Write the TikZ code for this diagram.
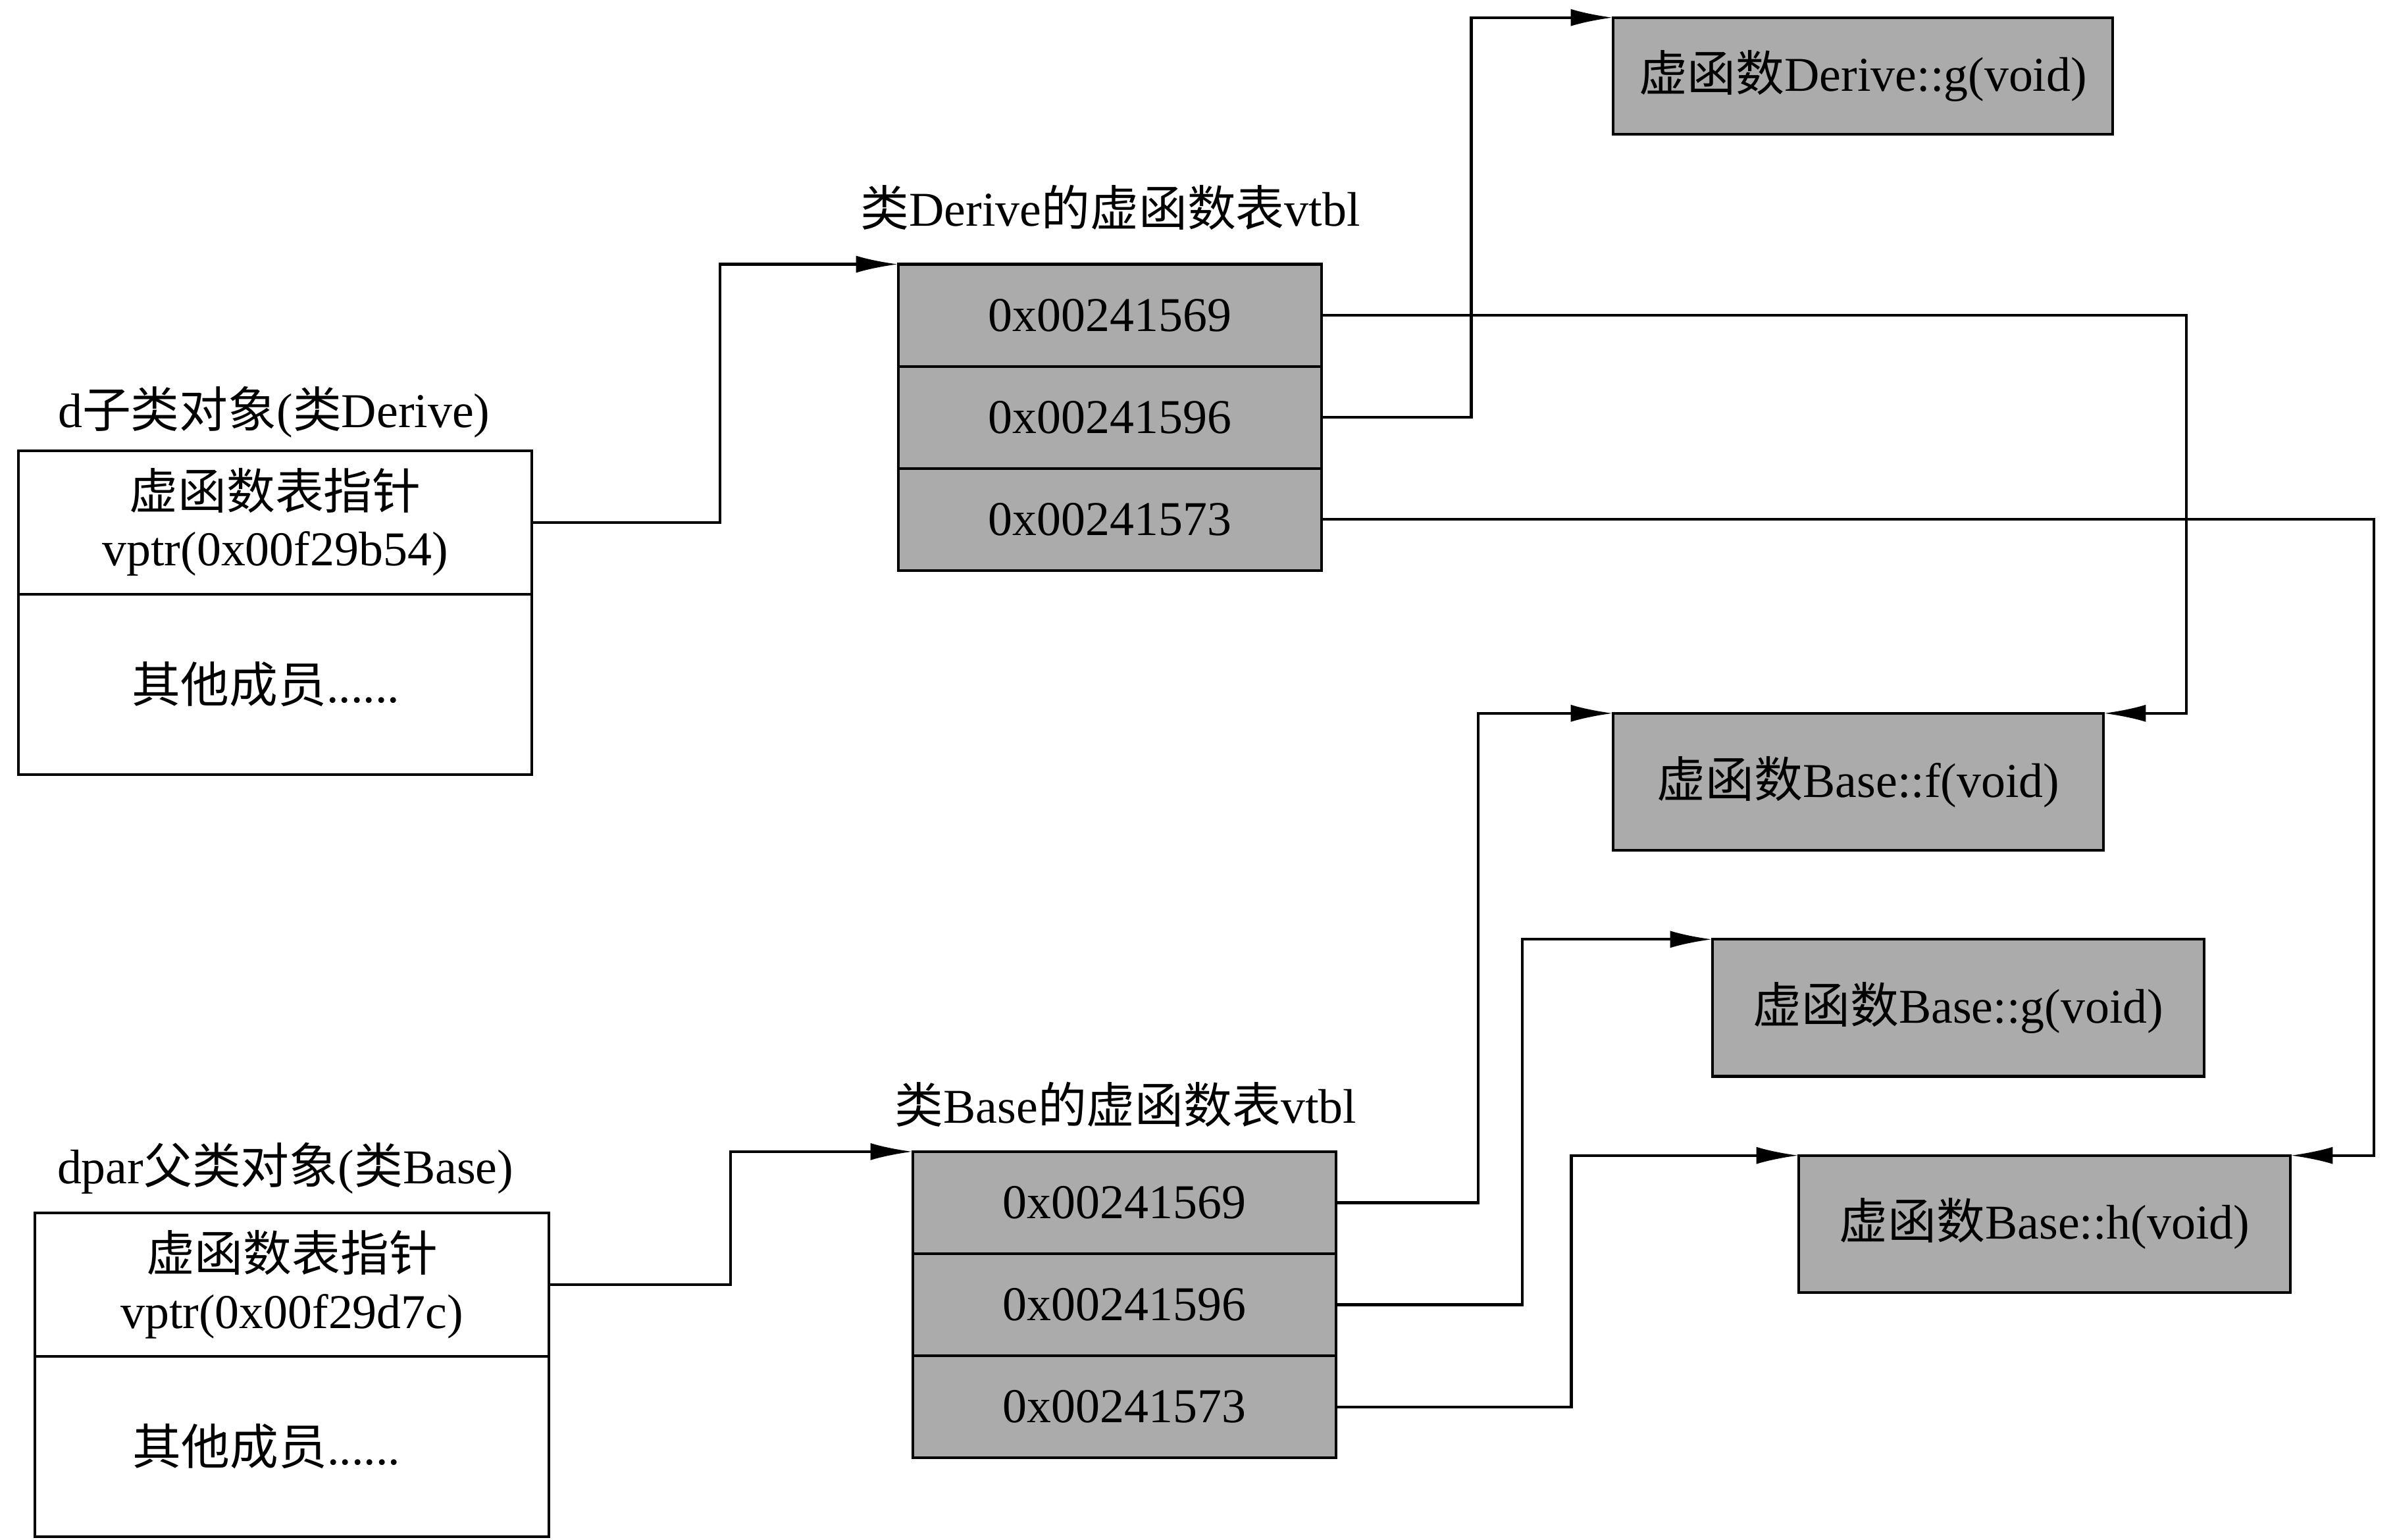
\documentclass[tikz,border=0pt]{standalone}
\usepackage{fontspec}
\setmainfont{Liberation Serif}
\newfontfamily\zhfont{Noto Sans CJK SC}
\newcommand{\zh}[1]{{\zhfont #1}}
\usetikzlibrary{arrows.meta,positioning}

\begin{document}
\begin{tikzpicture}[x=0.0232cm, y=-0.0232cm, node distance=0pt,
  every node/.style={inner sep=0pt, outer sep=0pt, font={\fontsize{21}{24.5}\selectfont}},
  objpart/.style={draw, line width=1.2pt, minimum width=7.8cm, align=center},
  vcell/.style={draw, fill=black!33, line width=1.2pt, minimum width=6.43cm, minimum height=1.55cm},
  funcbox/.style={draw, fill=black!33, line width=1.2pt, minimum width=7.47cm, minimum height=2.08cm},
  arr/.style={line width=1.2pt, -{Latex[length=6.4mm,width=2.6mm]}}]

\useasboundingbox (0,0) rectangle (1568,1008);

% object d
\node [objpart, minimum height=2.18cm, anchor=north west] (dptr) at (12,295) {\zh{虚函数表指针}\\vptr(0x00f29b54)};
\node [objpart, minimum height=2.74cm, below=of dptr] (doth) {\hspace*{-8pt}\zh{其他成员}......};
\node [anchor=west] (dlabel) at (38,270) {d\zh{子类对象}(\zh{类}Derive)};

% vtbl of Derive
\node [vcell, anchor=north west] (dvt1) at (588,173) {0x00241569};
\node [vcell, below=of dvt1] (dvt2) {0x00241596};
\node [vcell, below=of dvt2] (dvt3) {0x00241573};
\node (dtitle) at (727,136) {\zh{类}Derive\zh{的虚函数表}vtbl};

% object dpar
\node [objpart, minimum height=2.18cm, anchor=north west] (bptr) at (23,794) {\zh{虚函数表指针}\\vptr(0x00f29d7c)};
\node [objpart, minimum height=2.74cm, below=of bptr] (both) {\hspace*{-22pt}\zh{其他成员}......};
\node [anchor=west] (blabel) at (37.5,765) {dpar\zh{父类对象}(\zh{类}Base)};

% vtbl of Base
\node [vcell, anchor=north west] (bvt1) at (597.5,754) {0x00241569};
\node [vcell, below=of bvt1] (bvt2) {0x00241596};
\node [vcell, below=of bvt2] (bvt3) {0x00241573};
\node (btitle) at (737,723) {\zh{类}Base\zh{的虚函数表}vtbl};

% virtual functions
\node [funcbox, minimum width=7.59cm, minimum height=1.77cm, anchor=north west] (dg) at (1056,11.5) {\zh{虚函数}Derive::g(void)};
\node [funcbox, minimum width=7.45cm, anchor=north west] (bf) at (1056,467) {\zh{虚函数}Base::f(void)};
\node [funcbox, anchor=north west] (bg) at (1121,615) {\zh{虚函数}Base::g(void)};
\node [funcbox, anchor=north west] (bh) at (1177.5,756.5) {\zh{虚函数}Base::h(void)};

\draw [arr] (dptr.east) -- ++(123,0) |- (dvt1.north west);
\draw [arr] (dvt1.east) -- ++(566,0) |- (bf.north east);
\draw [arr] (dvt2.east) -- ++(98,0) |- (dg.north west);
\draw [arr] (dvt3.east) -- ++(689,0) |- (bh.north east);

\draw [arr] (bptr.east) -- ++(119,0) |- (bvt1.north west);
\draw [arr] (bvt1.east) -- ++(93,0) |- (bf.north west);
\draw [arr] (bvt2.east) -- ++(122,0) |- (bg.north west);
\draw [arr] (bvt3.east) -- ++(154,0) |- (bh.north west);

\end{tikzpicture}
\end{document}
